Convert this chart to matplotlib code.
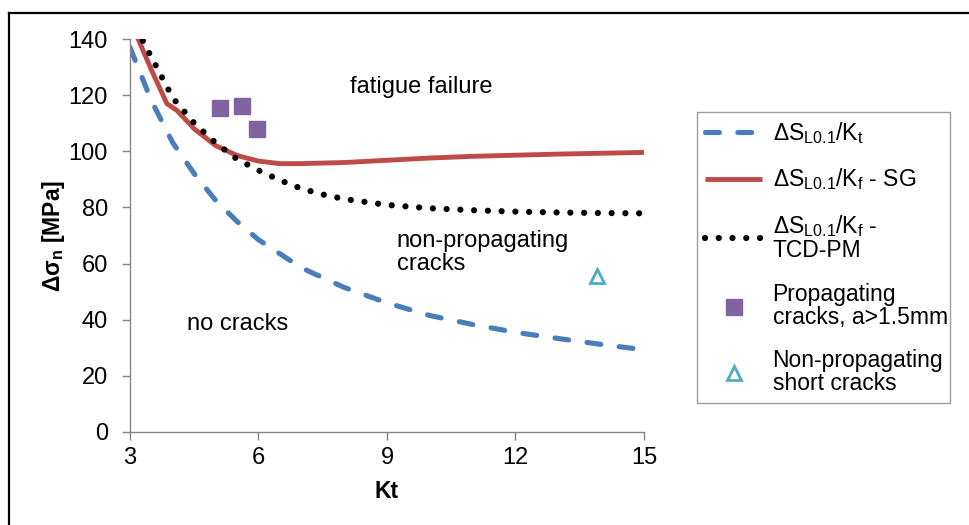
import numpy as np
import matplotlib.pyplot as plt
from matplotlib.lines import Line2D

plt.rcParams['font.family'] = ['Liberation Sans', 'DejaVu Sans']
plt.rcParams['mathtext.fontset'] = 'custom'
plt.rcParams['mathtext.rm'] = 'Liberation Sans'
plt.rcParams['mathtext.bf'] = 'Liberation Sans:bold'

# dS_L0.1 / Kt (blue dashed)
kt_blue = [3, 3.5, 4, 4.5, 5, 5.5, 6, 7, 8, 9, 10, 11, 12, 13, 14, 15]
s_blue = [137, 118, 103, 92, 82.5, 75, 68.5, 58.5, 51.5, 46, 41.5, 38.3, 35.5, 33.3, 31.2, 29.3]

# dS_L0.1 / Kf - SG (red)
kt_red = [3.0, 3.19, 3.5, 3.86, 4.1, 4.5, 5, 5.5, 6, 6.5, 7, 8, 9, 10, 11, 12, 13, 14, 15]
s_red = [147, 140, 129, 117, 114.5, 108, 102, 98.5, 96.5, 95.6, 95.6, 96, 96.8, 97.6, 98.2, 98.6, 99, 99.3, 99.6]

# dS_L0.1 / Kf - TCD-PM (black dotted)
kt_tcd = [3.0, 3.5, 4, 4.5, 5, 5.5, 6, 6.5, 7, 7.5, 8, 9, 10, 11, 12, 13, 14, 15]
s_tcd = [148, 133.5, 119, 110, 103, 97.2, 93.2, 89.7, 86.7, 84.6, 83, 80.9, 79.7, 79, 78.5, 78.2, 78, 77.9]

# experiments
kt_prop = [5.1, 5.61, 5.96]
s_prop = [115.3, 116, 108]
kt_nonprop = [13.9]
s_nonprop = [55.6]

fig = plt.figure(figsize=(9.7, 5.25), dpi=100)
ax = fig.add_axes([130/970, 93/525, 514/970, 393/525])

ax.plot(kt_blue, s_blue, color='#4A7EBB', lw=3.7, linestyle=(0, (2.7, 3.6)),
        dash_capstyle='round', label='ΔS$_{\\mathrm{L0.1}}$/K$_{\\mathrm{t}}$')
ax.plot(kt_red, s_red, color='#BE4B48', lw=3.5, solid_capstyle='butt',
        label='ΔS$_{\\mathrm{L0.1}}$/K$_{\\mathrm{f}}$ - SG')
ax.plot(kt_tcd, s_tcd, color='black', lw=4.5, linestyle=(0, (0.001, 2.2)),
        dash_capstyle='round', label='ΔS$_{\\mathrm{L0.1}}$/K$_{\\mathrm{f}}$ -\nTCD-PM')
ax.plot(kt_prop, s_prop, 's', color='#8064A2', ms=11, mec='#8064A2',
        label='Propagating\ncracks, a>1.5mm')
ax.plot(kt_nonprop, s_nonprop, '^', mfc='none', mec='#4BACC6', mew=2, ms=10,
        label='Non-propagating\nshort cracks')

ax.text(8.14, 120.8, 'fatigue failure', fontsize=17, va='baseline')
ax.text(9.23, 57.7, 'non-propagating\ncracks', fontsize=17, va='baseline', linespacing=1.05)
ax.text(4.32, 36.3, 'no cracks', fontsize=17, va='baseline')

ax.set_xlim(3, 15)
ax.set_ylim(0, 140)
ax.set_xticks([3, 6, 9, 12, 15])
ax.set_yticks(np.arange(0, 141, 20))
for side in ['top', 'right']:
    ax.spines[side].set_visible(False)
for side in ['left', 'bottom']:
    ax.spines[side].set_color('#868686')
    ax.spines[side].set_linewidth(1)
ax.tick_params(axis='both', color='#868686', length=6, width=1, labelsize=17)
ax.tick_params(axis='x', pad=5)
ax.tick_params(axis='y', pad=10)

ax.set_xlabel('Kt', fontsize=16.5, fontweight='bold')
ax.set_ylabel('Δσ$_{\\mathbf{n}}$ [MPa]', fontsize=16.5, fontweight='bold')
ax.xaxis.set_label_coords(0.5, -0.151)
ax.xaxis.label.set_va('center')
ax.yaxis.set_label_coords((54 - 130) / 514, 0.5)
ax.yaxis.label.set_va('center')

leg = fig.legend(loc='upper left', bbox_to_anchor=(697/970, 1 - 400/525, 253/970, 288/525),
                 mode='expand', fontsize=16.5, frameon=True, fancybox=False,
                 handlelength=2.5, handletextpad=0.45, borderaxespad=0,
                 borderpad=0.35, labelspacing=0.9)
leg.get_frame().set_edgecolor('#868686')
leg.get_frame().set_linewidth(1)
for t in leg.get_texts():
    t.set_linespacing(1.0)

# outer frame
fig.add_artist(Line2D([9/970, 1], [1 - 13/525, 1 - 13/525], color='black', lw=1.6))
fig.add_artist(Line2D([9/970, 9/970], [0, 1 - 13/525], color='black', lw=1.6))

fig.savefig('out.png', dpi=100)
